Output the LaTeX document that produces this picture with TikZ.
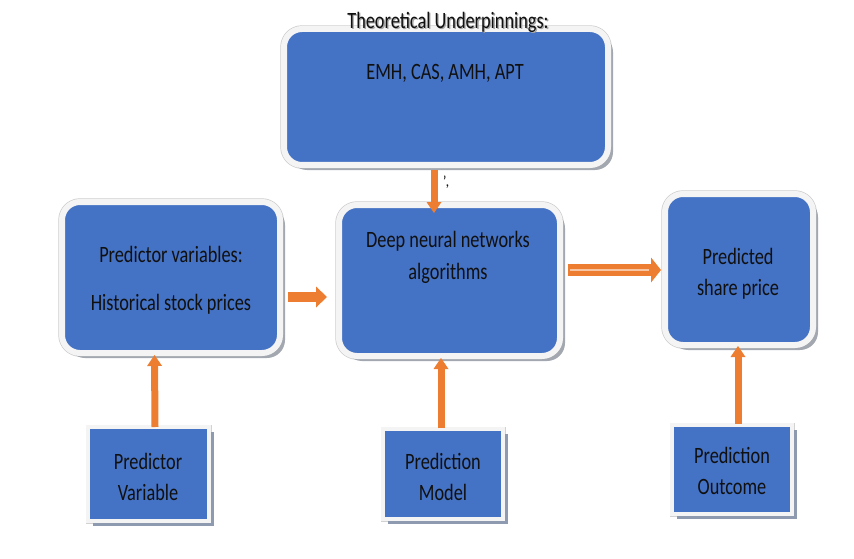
\documentclass[tikz,border=0pt]{standalone}
\usepackage{fontspec}
\setmainfont{Carlito}
\usetikzlibrary{arrows.meta,shadows,calc}
\definecolor{boxblue}{HTML}{4472C4}
\definecolor{arrorange}{HTML}{ED7D31}
\definecolor{rim}{HTML}{F4F4F4}
\definecolor{softshadow}{HTML}{A3A8B0}
\definecolor{flatshadow}{HTML}{8E9AAF}
\definecolor{ink}{HTML}{101010}
\newcommand{\tallbox}[1]{\scalebox{1}[1.28]{#1}}
\begin{document}
\begin{tikzpicture}[x=1pt, y=-1pt,
  roundbox/.style={rectangle, rounded corners=18pt, fill=boxblue,
    preaction={draw=gray!40, line width=7.4pt},
    draw=rim, line width=6pt,
    drop shadow={shadow xshift=5pt, shadow yshift=-5pt, fill=softshadow, opacity=1},
    inner sep=0pt},
  flatbox/.style={rectangle, fill=boxblue,
    preaction={draw=gray!35, line width=5pt},
    draw=rim, line width=4pt,
    drop shadow={shadow xshift=5pt, shadow yshift=-5pt, fill=flatshadow, opacity=1},
    inner sep=0pt},
  label/.style={font=\fontsize{18.3}{20}\selectfont, text=ink, inner sep=0pt, anchor=center},
  uparrow/.style={draw=arrorange, line width=7pt,
    -{Triangle[width=15pt, length=11pt, line width=0pt]}},
  sidearrow/.style={draw=arrorange, line width=10pt,
    -{Triangle[width=21pt, length=11pt, line width=0pt]}},
  widearrow/.style={draw=arrorange, line width=12pt,
    -{Triangle[width=25pt, length=10pt, line width=0pt]}},
  seam/.style={draw=arrorange!45!white, line width=1.2pt}
]
\useasboundingbox (0,0) rectangle (854,559);

% main boxes
\node[roundbox, minimum width=324pt, minimum height=136pt] (theory) at (446,97) {};
\node[roundbox, minimum width=218pt, minimum height=151pt] (inputs) at (171,277.5) {};
\node[roundbox, minimum width=221pt, minimum height=151pt] (dnn) at (449.5,280.5) {};
\node[roundbox, minimum width=148pt, minimum height=151pt] (output) at (739,269.5) {};

% bottom caption boxes
\node[flatbox, minimum width=121pt, minimum height=94pt] (varbox) at (148.5,474) {};
\node[flatbox, minimum width=120pt, minimum height=90pt] (modelbox) at (443,474) {};
\node[flatbox, minimum width=120pt, minimum height=89pt] (outbox) at (732,469.5) {};

% texts
\node[label, text=gray!70] (titleshade) at (449.3,23.3) {\tallbox{Theoretical Underpinnings:}};
\node[label] (title) at (448,22) {\tallbox{Theoretical Underpinnings:}};
\node[label] (theories) at (445,73) {\tallbox{EMH, CAS, AMH, APT}};
\node[label] (inA) at (171,254) {\tallbox{Predictor variables:}};
\node[label] (inB) at (171,304) {\tallbox{Historical stock prices}};
\node[label] (dnnA) at (448,241) {\tallbox{Deep neural networks}};
\node[label] (dnnB) at (448,273) {\tallbox{algorithms}};
\node[label] (outA) at (738,256) {\tallbox{Predicted}};
\node[label] (outB) at (738,289) {\tallbox{share price}};
\node[label] (varA) at (148,461) {\tallbox{Predictor}};
\node[label] (varB) at (148,492) {\tallbox{Variable}};
\node[label] (modA) at (443,461) {\tallbox{Prediction}};
\node[label] (modB) at (443,492) {\tallbox{Model}};
\node[label] (ocA) at (732,455) {\tallbox{Prediction}};
\node[label] (ocB) at (732,487) {\tallbox{Outcome}};
\node[font=\fontsize{15}{15}\selectfont, text=ink, inner sep=0pt] (tick) at (446,182) {\textquoteright\kern-1pt,};

% connectors
\draw[uparrow] ([xshift=-12pt, yshift=-2pt]theory.south) -- ([xshift=-15.5pt, yshift=-11pt]dnn.north);
\draw[sidearrow] ([xshift=5pt, yshift=-19.5pt]inputs.east) -- ([xshift=-9pt, yshift=-16.5pt]dnn.west);
\draw[widearrow] ([xshift=5pt, yshift=10.5pt]dnn.east) -- ([xshift=-1pt, yshift=-0.5pt]output.west);
\draw[seam] ([xshift=7pt, yshift=10.5pt]dnn.east) -- ([xshift=-13pt, yshift=-0.5pt]output.west);
\draw[uparrow] ([xshift=6.5pt, yshift=-2pt]varbox.north) -- ([xshift=-16.5pt, yshift=1pt]inputs.south);
\draw[uparrow] ([xshift=-2pt, yshift=-1pt]modelbox.north) -- ([xshift=-8.5pt, yshift=1pt]dnn.south);
\draw[uparrow] ([xshift=6pt, yshift=-0.5pt]outbox.north) -- ([xshift=-1pt, yshift=2pt]output.south);
\end{tikzpicture}
\end{document}
